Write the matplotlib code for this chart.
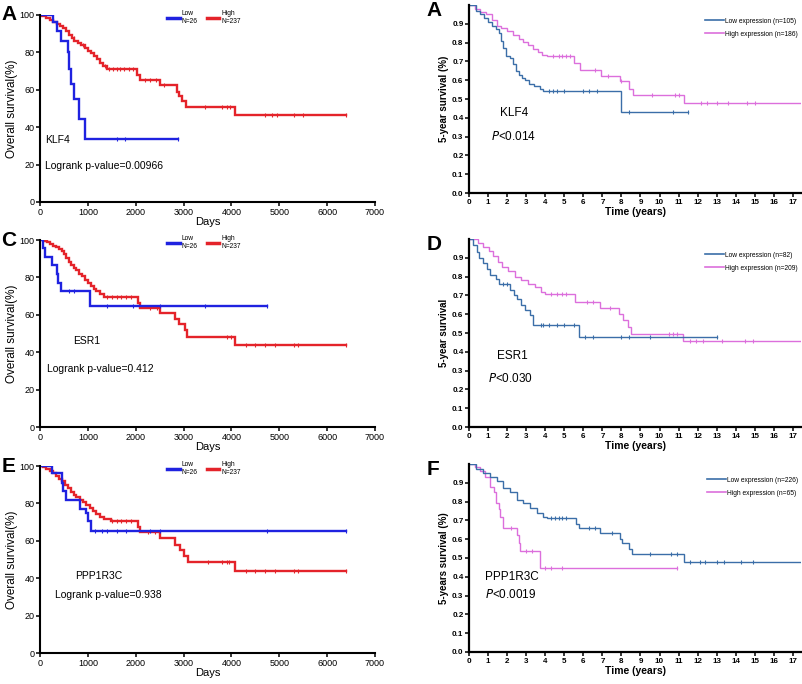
import matplotlib.pyplot as plt
from matplotlib.lines import Line2D
import numpy as np

plt.rcParams['font.family'] = ['Liberation Sans', 'DejaVu Sans']

# ---------------- left column (days, %) ----------------
klf4_low_t = [0, 280, 350, 440, 590, 615, 650, 700, 820, 940]
klf4_low_s = [100, 96, 91.5, 86, 80, 71, 63, 55, 44.5, 33.5]
klf4_low_end = 2890
klf4_low_cens = [1600, 1780, 2890]

klf4_high_t = [0, 50, 120, 200, 280, 350, 420, 480, 540, 600, 660, 720, 790, 860, 930, 1000,
               1070, 1130, 1190, 1250, 1320, 1400, 2030, 2080, 2500, 2860, 2910, 2970, 3050, 4080]
klf4_high_s = [100, 99.3, 98.5, 97.5, 96.3, 95.2, 94, 92.8, 91.2, 89.5, 87.5, 86, 85, 84, 82.5, 81,
               79.5, 78, 76.5, 74.5, 72.8, 71.2, 68, 65, 62.5, 59, 56.5, 54, 51, 46.5]
klf4_high_end = 6400
klf4_high_cens = [700, 900, 1350, 1450, 1520, 1600, 1680, 1760, 1850, 1950, 2200, 2300, 2420, 2600,
                  3450, 3800, 3900, 3960, 4700, 4850, 4950, 5300, 5500, 6400]

esr1_low_t = [0, 55, 95, 240, 345, 385, 440, 1050]
esr1_low_s = [100, 95.5, 91, 86.5, 82, 77, 72.5, 64.5]
esr1_low_end = 4740
esr1_low_cens = [600, 700, 1400, 1950, 2500, 3450, 4740]

esr1_high_t = [0, 80, 150, 210, 270, 330, 390, 450, 500, 550, 600, 650, 700, 760, 820, 880, 940,
               1000, 1060, 1120, 1180, 1250, 1340, 2040, 2090, 2500, 2830, 2900, 3020, 3080, 4080]
esr1_high_s = [100, 99.5, 98.8, 98, 97, 96, 95, 94, 92.5, 90.5, 88.5, 86.5, 85, 84, 82, 80.5, 78.5,
               77, 75.5, 74, 72.5, 71, 69.5, 66.5, 63.5, 61, 58, 55, 52, 48, 44]
esr1_high_end = 6400
esr1_high_cens = [1400, 1500, 1600, 1700, 1800, 1900, 2300, 2450, 3900, 4000, 4300, 4500, 4700,
                  4900, 5300, 5400, 6400]

ppp_low_t = [0, 245, 450, 490, 540, 830, 960, 1000, 1060]
ppp_low_s = [100, 96, 91, 86.5, 82, 77, 75, 70.5, 65.3]
ppp_low_end = 6400
ppp_low_cens = [1150, 1300, 1400, 1600, 1800, 2300, 2500, 4740, 6400]

ppp_high_t = [0, 60, 130, 200, 270, 340, 400, 460, 520, 580, 640, 700, 760, 830, 900, 970, 1040,
              1110, 1180, 1250, 1330, 1480, 2040, 2090, 2510, 2830, 2920, 3010, 3100, 4080]
ppp_high_s = [100, 99.3, 98.2, 97.2, 96, 94.8, 93.3, 91.8, 90, 88, 86, 84.5, 83.3, 82, 80.5, 79,
              77.5, 76, 74.5, 72.8, 71.5, 70.5, 67.5, 64.5, 61.5, 58, 55, 52, 48.5, 44]
ppp_high_end = 6400
ppp_high_cens = [1500, 1600, 1700, 1800, 1900, 2250, 2400, 3500, 3800, 3900, 3950, 4300, 4500,
                 4700, 4900, 5300, 5400, 6400]

# ---------------- right column (years, fraction) ----------------
ra_low_t = [0, 0.35, 0.6, 0.8, 1.0, 1.2, 1.4, 1.55, 1.7, 1.8, 1.95, 2.15, 2.3, 2.45, 2.6, 2.8,
            2.95, 3.15, 3.4, 3.75, 3.9, 8.0]
ra_low_s = [1.0, 0.97, 0.95, 0.93, 0.91, 0.89, 0.87, 0.85, 0.81, 0.77, 0.73, 0.72, 0.685, 0.65,
            0.63, 0.61, 0.60, 0.58, 0.57, 0.555, 0.54, 0.43]
ra_low_end = 11.5
ra_low_cens = [4.2, 4.4, 4.6, 5.0, 6.0, 6.3, 6.7, 8.4, 10.7, 11.5]

ra_high_t = [0, 0.3, 0.6, 0.9, 1.2, 1.45, 1.7, 2.0, 2.3, 2.6, 2.85, 3.1, 3.35, 3.6, 3.85, 4.1,
             5.5, 5.8, 6.95, 7.9, 8.4, 8.6, 11.3]
ra_high_s = [1.0, 0.98, 0.965, 0.95, 0.92, 0.89, 0.875, 0.86, 0.84, 0.82, 0.805, 0.785, 0.765,
             0.75, 0.735, 0.727, 0.69, 0.655, 0.625, 0.595, 0.555, 0.52, 0.48]
ra_high_end = 17.5
ra_high_cens = [4.4, 4.7, 4.9, 5.1, 5.3, 6.6, 7.3, 8.0, 9.6, 10.8, 11.0, 12.2, 12.5, 13.0, 13.6,
                14.6, 15.0]

rd_low_t = [0, 0.2, 0.4, 0.55, 0.75, 0.95, 1.1, 1.4, 1.55, 2.15, 2.35, 2.5, 2.75, 2.95, 3.2,
            3.35, 5.75]
rd_low_s = [1.0, 0.97, 0.93, 0.9, 0.87, 0.84, 0.81, 0.785, 0.76, 0.73, 0.70, 0.68, 0.65, 0.62,
            0.595, 0.545, 0.48]
rd_low_end = 13.0
rd_low_cens = [1.8, 2.0, 3.8, 3.9, 4.2, 4.6, 5.0, 5.5, 6.1, 6.5, 8.0, 8.4, 9.5, 13.0]

rd_high_t = [0, 0.45, 0.75, 1.05, 1.25, 1.5, 1.75, 2.05, 2.4, 2.75, 3.1, 3.45, 3.8, 4.0, 5.55,
             6.9, 7.85, 8.1, 8.35, 8.5, 11.25]
rd_high_s = [1.0, 0.98, 0.96, 0.935, 0.91, 0.88, 0.85, 0.83, 0.80, 0.78, 0.76, 0.745, 0.72,
             0.705, 0.665, 0.633, 0.60, 0.57, 0.53, 0.495, 0.455]
rd_high_end = 17.5
rd_high_cens = [4.3, 4.6, 4.9, 5.1, 6.2, 6.5, 7.4, 10.5, 10.7, 10.9, 11.6, 11.9, 12.3, 13.3,
                14.5, 14.9]

rf_low_t = [0, 0.35, 0.75, 1.1, 1.45, 1.8, 2.15, 2.5, 2.85, 3.2, 3.55, 3.9, 4.1, 5.6, 5.75,
            6.9, 7.95, 8.05, 8.4, 8.55, 11.3]
rf_low_s = [1.0, 0.975, 0.95, 0.93, 0.91, 0.87, 0.85, 0.81, 0.79, 0.765, 0.74, 0.72, 0.712,
            0.68, 0.66, 0.635, 0.60, 0.58, 0.55, 0.52, 0.48]
rf_low_end = 17.5
rf_low_cens = [4.3, 4.5, 4.7, 4.9, 5.1, 6.3, 6.6, 7.5, 9.5, 10.6, 10.9, 11.6, 12.1, 12.4, 13.0,
               13.4, 14.3, 14.9]

rf_high_t = [0, 0.3, 0.6, 0.85, 1.1, 1.3, 1.42, 1.55, 1.65, 1.78, 2.5, 2.6, 2.7, 3.75]
rf_high_s = [1.0, 0.985, 0.96, 0.93, 0.88, 0.85, 0.79, 0.76, 0.72, 0.66, 0.62, 0.58, 0.535, 0.445]
rf_high_end = 10.9
rf_high_cens = [2.2, 3.0, 3.3, 4.0, 4.3, 4.9, 10.9]

LBLUE, LRED = '#1f22e0', '#e4232a'
RBLUE, RPINK = '#3b6ea8', '#dc6fdc'


def km(ax, t, s, end, cens, color, lw, ms):
    x = list(t) + [end]
    y = list(s) + [s[-1]]
    ax.plot(x, y, drawstyle='steps-post', color=color, lw=lw, solid_joinstyle='miter')
    idx = np.searchsorted(t, cens, side='right') - 1
    cy = np.array(s)[idx]
    ax.plot(cens, cy, ls='none', marker='|', color=color, ms=ms, mew=0.8)


def style(ax, lw=1.5):
    for sp in ['top', 'right']:
        ax.spines[sp].set_visible(False)
    for sp in ['left', 'bottom']:
        ax.spines[sp].set_linewidth(lw)
    ax.tick_params(width=1.1, length=3, pad=1)


fig = plt.figure(figsize=(8.02, 6.84), dpi=100)

# left panels
left_info = [
    (0.7047, 'A', 'KLF4', 'Logrank p-value=0.00966', (104, 33), (104, 19),
     klf4_low_t, klf4_low_s, klf4_low_end, klf4_low_cens,
     klf4_high_t, klf4_high_s, klf4_high_end, klf4_high_cens),
    (0.3757, 'C', 'ESR1', 'Logrank p-value=0.412', (696, 46), (139, 31),
     esr1_low_t, esr1_low_s, esr1_low_end, esr1_low_cens,
     esr1_high_t, esr1_high_s, esr1_high_end, esr1_high_cens),
    (0.0453, 'E', 'PPP1R3C', 'Logrank p-value=0.938', (731, 41), (313, 31),
     ppp_low_t, ppp_low_s, ppp_low_end, ppp_low_cens,
     ppp_high_t, ppp_high_s, ppp_high_end, ppp_high_cens),
]
for (bot, letter, gene, ptxt, gpos, ppos, lt, ls_, le, lc, ht, hs, he, hc) in left_info:
    ax = fig.add_axes([0.0499, bot, 0.4177, 0.2734])
    km(ax, ht, hs, he, hc, LRED, 1.7, 3)
    km(ax, lt, ls_, le, lc, LBLUE, 1.7, 3)
    ax.set_xlim(0, 7000)
    ax.set_ylim(0, 100)
    ax.set_xticks(np.arange(0, 7001, 1000))
    ax.set_yticks([0, 20, 40, 60, 80, 100])
    ax.tick_params(labelsize=6.5)
    style(ax)
    ax.set_ylabel('Overall survival(%)', fontsize=8.5, labelpad=1)
    ax.set_xlabel('Days', fontsize=8, labelpad=0)
    ax.text(gpos[0], gpos[1], gene, fontsize=7.5, va='center')
    ax.text(ppos[0], ppos[1], ptxt, fontsize=7.5, va='center')
    fig.text(0.002, bot + 0.2734, letter, fontsize=15, fontweight='bold', va='center')
    h = [Line2D([], [], color=LBLUE, lw=2.5), Line2D([], [], color=LRED, lw=2.5)]
    ax.legend(h, ['Low\nN=26', 'High\nN=237'], ncol=2, frameon=False, fontsize=4.8,
              loc='center left', bbox_to_anchor=(0.37, 0.985), handlelength=1.9,
              handletextpad=0.3, columnspacing=1.3, borderpad=0)

# right panels
right_info = [
    (0.7178, 'A', '5-year survival (%)', 'KLF4', 'P<0.014', (1.63, 0.425), (1.14, 0.30),
     'Low expression (n=105)', 'High expression (n=186)',
     ra_low_t, ra_low_s, ra_low_end, ra_low_cens,
     ra_high_t, ra_high_s, ra_high_end, ra_high_cens),
    (0.3757, 'D', '5-year survival', 'ESR1', 'P<0.030', (1.45, 0.38), (0.98, 0.257),
     'Low expression (n=82)', 'High expression (n=209)',
     rd_low_t, rd_low_s, rd_low_end, rd_low_cens,
     rd_high_t, rd_high_s, rd_high_end, rd_high_cens),
    (0.0468, 'F', '5-years survival (%)', 'PPP1R3C', 'P<0.0019', (0.84, 0.40), (0.84, 0.305),
     'Low expression (n=226)', 'High expression (n=65)',
     rf_low_t, rf_low_s, rf_low_end, rf_low_cens,
     rf_high_t, rf_high_s, rf_high_end, rf_high_cens),
]
for (bot, letter, ylab, gene, ptxt, gpos, ppos, llab, hlab,
     lt, ls_, le, lc, ht, hs, he, hc) in right_info:
    ax = fig.add_axes([0.5848, bot, 0.4145, 0.2749])
    km(ax, ht, hs, he, hc, RPINK, 1.0, 2.5)
    km(ax, lt, ls_, le, lc, RBLUE, 1.0, 2.5)
    ax.set_xlim(0, 17.45)
    ax.set_ylim(0, 1.0)
    ax.set_xticks(np.arange(0, 18, 1))
    ax.set_yticks(np.round(np.arange(0, 0.91, 0.1), 1))
    ax.set_yticklabels(['%.1f' % v for v in np.arange(0, 0.91, 0.1)])
    ax.tick_params(labelsize=5.8)
    for lab in ax.get_xticklabels() + ax.get_yticklabels():
        lab.set_fontweight('bold')
    style(ax, 1.6)
    ax.set_ylabel(ylab, fontsize=7, fontweight='bold', labelpad=2)
    ax.set_xlabel('Time (years)', fontsize=7.5, fontweight='bold', labelpad=1)
    ax.text(gpos[0], gpos[1], gene, fontsize=8.5, va='center')
    ax.text(ppos[0], ppos[1], r'$\it{P}$' + ptxt[1:], fontsize=8.5, va='center')
    fig.text(0.532, bot + 0.2749 - 0.008, letter, fontsize=15, fontweight='bold', va='center')
    h = [Line2D([], [], color=RBLUE, lw=1.2), Line2D([], [], color=RPINK, lw=1.2)]
    ax.legend(h, [llab, hlab], frameon=False, fontsize=4.8, loc='upper right',
              bbox_to_anchor=(1.0, 0.95), handlelength=2.8, handletextpad=0.2,
              labelspacing=0.9, borderpad=0)

fig.savefig('out.png', dpi=100)
